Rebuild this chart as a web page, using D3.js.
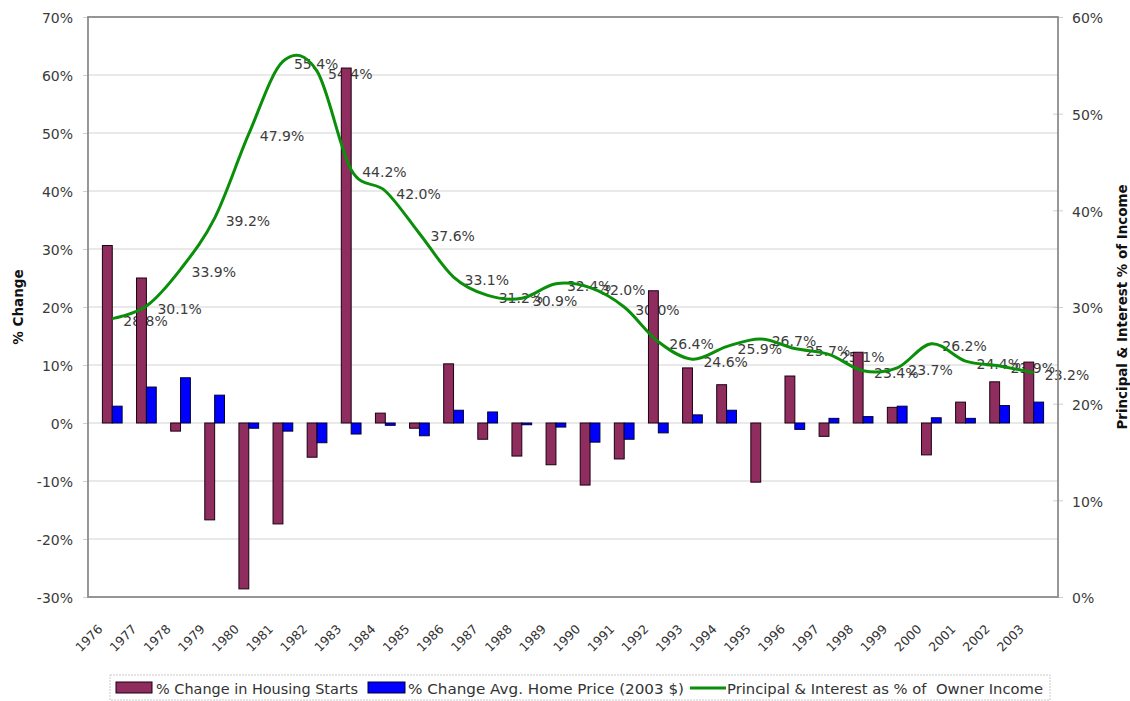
<!DOCTYPE html>
<html>
<head>
<meta charset="utf-8">
<script src="https://cdn.jsdelivr.net/npm/d3@7"></script>
<style>
  html, body { margin: 0; padding: 0; background: #fff; }
  svg { display: block; font-family: "DejaVu Sans", Verdana, sans-serif; }
</style>
</head>
<body>
<svg id="chart" width="1130" height="701"></svg>
<script>
// Years on the category axis
const years = ["1976","1977","1978","1979","1980","1981","1982","1983","1984","1985",
  "1986","1987","1988","1989","1990","1991","1992","1993","1994","1995",
  "1996","1997","1998","1999","2000","2001","2002","2003"];

// % change in housing starts (left axis, percent)
const housingStarts = [30.6, 25.0, -1.4, -16.7, -28.6, -17.4, -5.9, 61.2, 1.7, -0.9,
  10.2, -2.8, -5.7, -7.2, -10.7, -6.2, 22.8, 9.5, 6.6, -10.2,
  8.1, -2.3, 12.2, 2.7, -5.5, 3.6, 7.1, 10.5];

// % change in average home price, 2003 dollars (left axis, percent)
const homePrice = [2.9, 6.2, 7.8, 4.8, -0.9, -1.4, -3.4, -1.9, -0.4, -2.2,
  2.2, 1.9, -0.3, -0.7, -3.3, -2.8, -1.7, 1.4, 2.2, 0.0,
  -1.1, 0.8, 1.1, 2.9, 0.9, 0.8, 3.0, 3.6];

// Principal & interest as % of owner income (right axis, percent)
const piShare = [28.8, 30.1, 33.9, 39.2, 47.9, 55.4, 54.4, 44.2, 42.0, 37.6,
  33.1, 31.2, 30.9, 32.4, 32.0, 30.0, 26.4, 24.6, 25.9, 26.7,
  25.7, 25.1, 23.4, 23.7, 26.2, 24.4, 23.9, 23.2];

const leftTicks = [-30, -20, -10, 0, 10, 20, 30, 40, 50, 60, 70];
const rightTicks = [0, 10, 20, 30, 40, 50, 60];

const seriesNames = ["% Change in Housing Starts", "% Change Avg. Home Price (2003 $)",
  "Principal & Interest as % of  Owner Income"];

const svg = d3.select("#chart");
const plot = { left: 88, right: 1058, top: 17, bottom: 597 };

const x0 = d3.scaleBand().domain(years).range([plot.left, plot.right]).padding(0.422);
const x1 = d3.scaleBand().domain(["starts", "price"]).range([0, x0.bandwidth()]);
const yL = d3.scaleLinear().domain([-30, 70]).range([plot.bottom, plot.top]);
const yR = d3.scaleLinear().domain([0, 60]).range([plot.bottom, plot.top]);
const cx = d => x0(d) + x0.bandwidth() / 2;

// Horizontal gridlines on the left-axis ticks
svg.append("g").selectAll("line").data(leftTicks).join("line")
  .attr("x1", plot.left).attr("x2", plot.right)
  .attr("y1", d => yL(d)).attr("y2", d => yL(d))
  .attr("stroke", "#e2e2e2").attr("stroke-width", 1.5);

// Left axis
const leftAxis = svg.append("g").attr("transform", `translate(${plot.left},0)`)
  .call(d3.axisLeft(yL).tickValues(leftTicks).tickFormat(d => d + "%").tickSize(5).tickPadding(10));
leftAxis.select(".domain").remove();
leftAxis.selectAll(".tick line").attr("stroke", "#cfcfcf");
leftAxis.selectAll(".tick text").attr("fill", "#3a3a3a").attr("font-size", 14)
  .attr("font-family", "DejaVu Sans, sans-serif").attr("dy", "0.42em");

// Right axis
const rightAxis = svg.append("g").attr("transform", `translate(${plot.right},0)`)
  .call(d3.axisRight(yR).tickValues(rightTicks).tickFormat(d => d + "%").tickSize(5).tickPadding(9));
rightAxis.select(".domain").remove();
rightAxis.selectAll(".tick line").attr("stroke", "#cfcfcf").attr("x1", -5);
rightAxis.selectAll(".tick text").attr("fill", "#3a3a3a").attr("font-size", 14)
  .attr("font-family", "DejaVu Sans, sans-serif").attr("dy", "0.42em");

// Value labels for the line (drawn beneath the bars and the line)
svg.append("g").selectAll("text").data(piShare).join("text")
  .attr("x", (d, i) => cx(years[i]) + 11)
  .attr("y", d => yR(d) + 7.5)
  .attr("font-size", 14).attr("fill", "#3c3c3c")
  .text(d => d.toFixed(1) + "%");

// Bars
const groups = svg.append("g").selectAll("g").data(years).join("g")
  .attr("transform", d => `translate(${x0(d)},0)`);
groups.append("rect")
  .attr("x", x1("starts")).attr("width", x1.bandwidth())
  .attr("y", (d, i) => yL(Math.max(0, housingStarts[i])))
  .attr("height", (d, i) => Math.abs(yL(housingStarts[i]) - yL(0)))
  .attr("fill", "#8e2d5e").attr("stroke", "#1a0010").attr("stroke-width", 1);
groups.filter((d, i) => homePrice[i] !== 0).append("rect")
  .attr("x", x1("price")).attr("width", x1.bandwidth())
  .attr("y", d => yL(Math.max(0, homePrice[years.indexOf(d)])))
  .attr("height", d => Math.abs(yL(homePrice[years.indexOf(d)]) - yL(0)))
  .attr("fill", "#0000ff").attr("stroke", "#000033").attr("stroke-width", 1);

// Smoothed line for principal & interest share
const line = d3.line()
  .x((d, i) => cx(years[i]))
  .y(d => yR(d))
  .curve(d3.curveCardinal.tension(0));
svg.append("path").datum(piShare)
  .attr("d", line).attr("fill", "none")
  .attr("stroke", "#0a8f0a").attr("stroke-width", 3);

// Plot-area border
svg.append("rect")
  .attr("x", plot.left).attr("y", plot.top)
  .attr("width", plot.right - plot.left).attr("height", plot.bottom - plot.top)
  .attr("fill", "none").attr("stroke", "#8c8c8c").attr("stroke-width", 1.8);

// Category labels, slanted
svg.append("g").selectAll("text").data(years).join("text")
  .attr("transform", d => `translate(${cx(d) - 9},630) rotate(-45)`)
  .attr("text-anchor", "end").attr("font-size", 12.5).attr("fill", "#333")
  .text(d => d);

// Axis titles
svg.append("text")
  .attr("transform", `translate(23,${(plot.top + plot.bottom) / 2}) rotate(-90)`)
  .attr("text-anchor", "middle").attr("font-size", 13.5).attr("font-weight", "bold")
  .attr("fill", "#111").text("% Change");
svg.append("text")
  .attr("transform", `translate(1127,${(plot.top + plot.bottom) / 2}) rotate(-90)`)
  .attr("text-anchor", "middle").attr("font-size", 14).attr("font-weight", "bold")
  .attr("fill", "#111")
  .attr("textLength", 245).attr("lengthAdjust", "spacingAndGlyphs")
  .text("Principal & Interest % of Income");

// Legend
const legend = svg.append("g");
legend.append("rect").attr("x", 110).attr("y", 675).attr("width", 940).attr("height", 25)
  .attr("fill", "#fff").attr("stroke", "#c8c8c8").attr("stroke-width", 1)
  .attr("stroke-dasharray", "2,1");
legend.append("rect").attr("x", 116).attr("y", 682).attr("width", 36).attr("height", 11)
  .attr("fill", "#8e2d5e").attr("stroke", "#1a0010");
legend.append("text").attr("x", 156).attr("y", 694).attr("font-size", 14).attr("fill", "#333")
  .attr("textLength", 202).attr("lengthAdjust", "spacingAndGlyphs").text(seriesNames[0]);
legend.append("rect").attr("x", 368).attr("y", 682).attr("width", 37).attr("height", 11)
  .attr("fill", "#0000ff").attr("stroke", "#000033");
legend.append("text").attr("x", 408).attr("y", 694).attr("font-size", 14).attr("fill", "#333")
  .attr("textLength", 276).attr("lengthAdjust", "spacingAndGlyphs").text(seriesNames[1]);
legend.append("line").attr("x1", 690).attr("x2", 726).attr("y1", 688).attr("y2", 688)
  .attr("stroke", "#0a8f0a").attr("stroke-width", 3);
legend.append("text").attr("x", 727).attr("y", 694).attr("font-size", 14).attr("fill", "#333")
  .style("white-space", "pre")
  .attr("textLength", 316).attr("lengthAdjust", "spacingAndGlyphs").text(seriesNames[2]);
</script>
</body>
</html>
